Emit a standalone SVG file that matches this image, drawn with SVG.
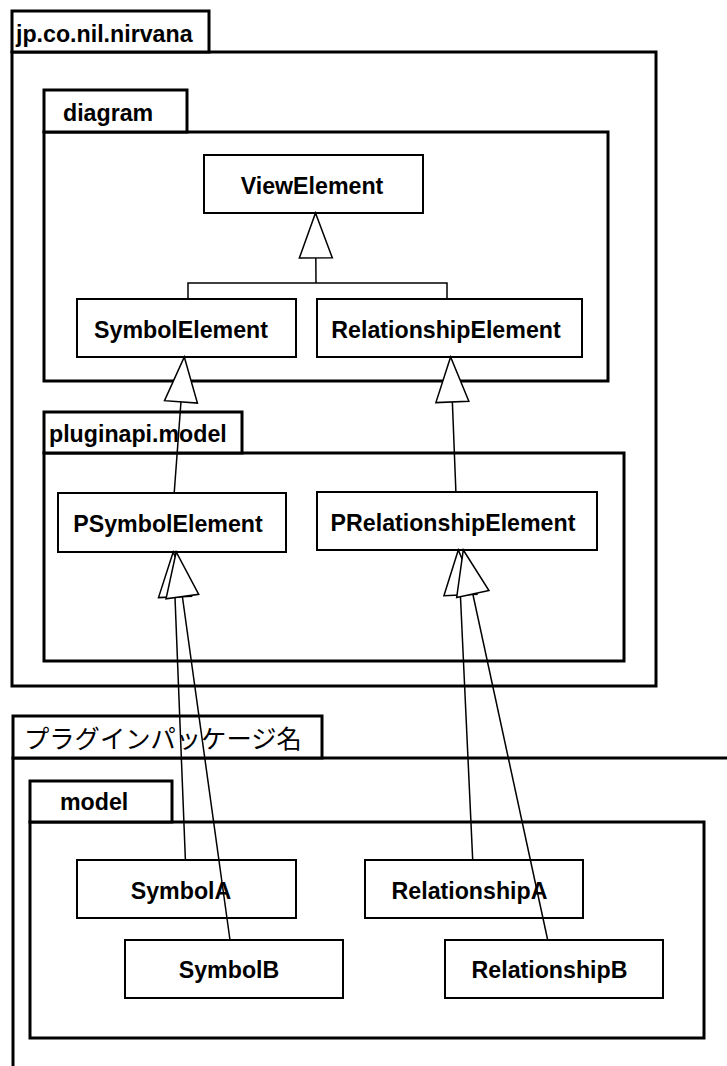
<svg xmlns="http://www.w3.org/2000/svg" width="727" height="1066" viewBox="0 0 727 1066">
<style>
.pkg{fill:#fff;stroke:#000;stroke-width:3}
.cls{fill:#fff;stroke:#000;stroke-width:2}
.t{font-family:"Liberation Sans",Arial,sans-serif;font-weight:bold;font-size:23.2px;fill:#000}
.jp{font-family:"Noto Sans CJK JP",sans-serif;font-size:25.3px;fill:#000}
.c{fill:none;stroke:#000;stroke-width:1.5}
.m{text-anchor:middle}
</style>
<defs>
<marker id="gen" markerUnits="userSpaceOnUse" markerWidth="50" markerHeight="40" viewBox="-2 -2 50 40" refX="45" refY="16.5" orient="auto" overflow="visible">
<path d="M0,0 L45,16.5 L0,33 Z" fill="#fff" stroke="#000" stroke-width="1.5"/>
</marker>
</defs>
<g id="pkg-nirvana">
<rect class="pkg" x="12" y="52" width="644" height="634"/>
<rect class="pkg" x="12" y="11" width="197" height="41"/>
<text class="t" x="16" y="42">jp.co.nil.nirvana</text>
</g>
<g id="pkg-diagram">
<rect class="pkg" x="44" y="132" width="564" height="249"/>
<rect class="pkg" x="44" y="90" width="143" height="42"/>
<text class="t" x="63" y="121">diagram</text>
</g>
<g id="pkg-pluginapi">
<rect class="pkg" x="44" y="453" width="580" height="208"/>
<rect class="pkg" x="44" y="412" width="198" height="41"/>
<text class="t" x="49" y="442">pluginapi.model</text>
</g>
<g id="pkg-plugin">
<path class="pkg" d="M13,1070 V758 H730"/>
<rect class="pkg" x="13" y="716" width="309" height="42"/>
<text class="jp" x="24" y="748">プラグインパッケージ名</text>
</g>
<g id="pkg-model">
<rect class="pkg" x="30" y="822" width="674" height="216"/>
<rect class="pkg" x="30" y="781" width="142" height="41"/>
<text class="t" x="60" y="810">model</text>
</g>
<g id="ViewElement">
<rect class="cls" x="204" y="155" width="219" height="58"/>
<text class="t m" x="312" y="194">ViewElement</text>
</g>
<g id="SymbolElement">
<rect class="cls" x="77" y="299" width="219" height="58"/>
<text class="t m" x="181" y="338">SymbolElement</text>
</g>
<g id="RelationshipElement">
<rect class="cls" x="317" y="299" width="265" height="58"/>
<text class="t m" x="446" y="338">RelationshipElement</text>
</g>
<g id="PSymbolElement">
<rect class="cls" x="58" y="493" width="228" height="59"/>
<text class="t m" x="168" y="532">PSymbolElement</text>
</g>
<g id="PRelationshipElement">
<rect class="cls" x="317" y="492" width="280" height="58"/>
<text class="t m" x="453" y="531">PRelationshipElement</text>
</g>
<g id="SymbolA">
<rect class="cls" x="77" y="860" width="219" height="58"/>
<text class="t m" x="181" y="899">SymbolA</text>
</g>
<g id="SymbolB">
<rect class="cls" x="125" y="940" width="218" height="58"/>
<text class="t m" x="229" y="978">SymbolB</text>
</g>
<g id="RelationshipA">
<rect class="cls" x="365" y="860" width="218" height="58"/>
<text class="t m" x="469.5" y="899">RelationshipA</text>
</g>
<g id="RelationshipB">
<rect class="cls" x="445" y="940" width="218" height="58"/>
<text class="t m" x="549.5" y="978">RelationshipB</text>
</g>
<g id="connectors">
<path class="c" d="M188,299 V283 H447 V299"/>
<path class="c" d="M316,283 L315.5,213" marker-end="url(#gen)"/>
<path class="c" d="M174.2,493 L184.3,357" marker-end="url(#gen)"/>
<path class="c" d="M455.9,492 L450.6,357" marker-end="url(#gen)"/>
<path class="c" d="M185.4,860 L173.2,552" marker-end="url(#gen)"/>
<path class="c" d="M230,940 L176.2,552" marker-end="url(#gen)"/>
<path class="c" d="M472.7,860 L458.3,550" marker-end="url(#gen)"/>
<path class="c" d="M547.7,940 L463.3,550" marker-end="url(#gen)"/>
</g>
</svg>
